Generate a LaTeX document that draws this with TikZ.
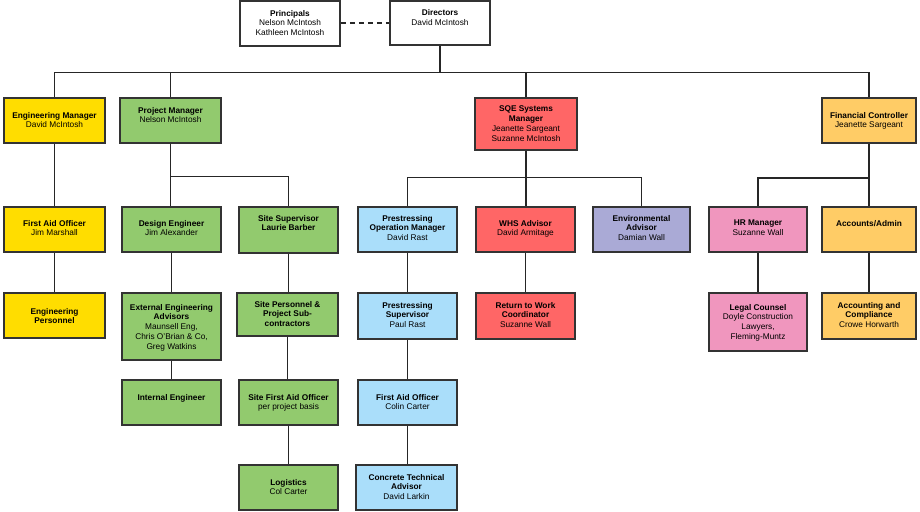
\documentclass[tikz,border=0pt]{standalone}
\usepackage{fontspec}
\setmainfont{Liberation Sans}
\definecolor{cyel}{HTML}{FFDD00}
\definecolor{cgrn}{HTML}{92CA6E}
\definecolor{cred}{HTML}{FF6666}
\definecolor{cblu}{HTML}{AADEFA}
\definecolor{clav}{HTML}{AAAAD6}
\definecolor{cpnk}{HTML}{F096BE}
\definecolor{corg}{HTML}{FFCC66}
\definecolor{cline}{HTML}{333333}
\tikzset{
  orgbox/.style={draw=cline, line width=1.5pt, inner sep=0pt, rectangle},
  orgtxt/.style={anchor=north, inner sep=0pt, align=center,
    font=\fontsize{8.3}{9.8}\selectfont, execute at begin node={\rule{0pt}{6.2pt}}},
  conn/.style={draw=black!85, line width=1.6pt},
}
\newcommand\orgbox[8]{%
  \node[orgbox, fill=#6, minimum width={#4-#2}, minimum height={#5-#3}] (#1) at ({(#2+#4)/2},{(#3+#5)/2}) {};
  \node[orgtxt] (#1t) at ({(#2+#4)/2},{#7-3.2}) {#8};}
\begin{document}
\begin{tikzpicture}[x=1pt,y=-1pt]
\useasboundingbox (0,0) rectangle (920,511);
\orgbox{pr}{240}{1}{340}{46}{white}{13}{\textbf{Principals}\\Nelson McIntosh\\Kathleen McIntosh}
\orgbox{dir}{390}{1}{490}{45}{white}{12.5}{\textbf{Directors}\\David McIntosh}
\orgbox{em}{4}{98}{105}{143}{cyel}{115}{\textbf{Engineering Manager}\\David McIntosh}
\orgbox{pm}{120}{98}{221}{143}{cgrn}{110}{\textbf{Project Manager}\\Nelson McIntosh}
\orgbox{sqe}{475}{98}{577}{150}{cred}{109}{\textbf{SQE Systems}\\\textbf{Manager}\\Jeanette Sargeant\\Suzanne McIntosh}
\orgbox{fc}{822}{98}{916}{143}{corg}{115}{\textbf{Financial Controller}\\Jeanette Sargeant}
\orgbox{fao}{4}{207}{105}{252}{cyel}{223}{\textbf{First Aid Officer}\\Jim Marshall}
\orgbox{ep}{4}{293}{105}{338}{cyel}{311}{\textbf{Engineering}\\\textbf{Personnel}}
\orgbox{de}{122}{207}{221}{252}{cgrn}{223}{\textbf{Design Engineer}\\Jim Alexander}
\orgbox{ss}{239}{207}{338}{253}{cgrn}{218}{\textbf{Site Supervisor}\\\textbf{Laurie Barber}}
\orgbox{eea}{122}{293}{221}{360}{cgrn}{307}{\textbf{External Engineering}\\\textbf{Advisors}\\Maunsell Eng,\\Chris O'Brian \& Co,\\Greg Watkins}
\orgbox{ie}{122}{380}{221}{425}{cgrn}{397}{\textbf{Internal Engineer}}
\orgbox{sp}{237}{293}{338}{336}{cgrn}{304}{\textbf{Site Personnel \&}\\\textbf{Project Sub-}\\\textbf{contractors}}
\orgbox{sfa}{239}{380}{338}{425}{cgrn}{397}{\textbf{Site First Aid Officer}\\per project basis}
\orgbox{log}{239}{465}{338}{510}{cgrn}{482}{\textbf{Logistics}\\Col Carter}
\orgbox{pom}{358}{207}{457}{252}{cblu}{218}{\textbf{Prestressing}\\\textbf{Operation Manager}\\David Rast}
\orgbox{whs}{476}{207}{575}{252}{cred}{223}{\textbf{WHS Advisor}\\David Armitage}
\orgbox{env}{593}{207}{690}{252}{clav}{218}{\textbf{Environmental}\\\textbf{Advisor}\\Damian Wall}
\orgbox{psup}{358}{293}{457}{339}{cblu}{305}{\textbf{Prestressing}\\\textbf{Supervisor}\\Paul Rast}
\orgbox{rtw}{476}{293}{575}{339}{cred}{305}{\textbf{Return to Work}\\\textbf{Coordinator}\\Suzanne Wall}
\orgbox{faot}{358}{380}{457}{425}{cblu}{397}{\textbf{First Aid Officer}\\Colin Carter}
\orgbox{cta}{356}{465}{457}{510}{cblu}{477}{\textbf{Concrete Technical}\\\textbf{Advisor}\\David Larkin}
\orgbox{hr}{709}{207}{807}{252}{cpnk}{223}{\textbf{HR Manager}\\Suzanne Wall}
\orgbox{aa}{822}{207}{916}{252}{corg}{223}{\textbf{Accounts/Admin}}
\orgbox{lc}{709}{293}{807}{351}{cpnk}{307}{\textbf{Legal Counsel}\\Doyle Construction\\Lawyers,\\Fleming-Muntz}
\orgbox{acc}{822}{293}{916}{339}{corg}{305}{\textbf{Accounting and}\\\textbf{Compliance}\\Crowe Horwarth}
% junction rows
\coordinate (bus) at (0,72.5);
\coordinate (rowpm) at (0,176.5);
\coordinate (rowsqe) at (0,177.5);
\coordinate (rowfc) at (0,178);
% top
\draw[conn, dash pattern=on 5pt off 4pt] (pr.east |- 0,23) -- (dir.west |- 0,23);
\draw[conn] (dir.south) -- (dir.south |- bus);
\draw[conn] (em.north) |- (fc.north |- bus) -- (fc.north);
\draw[conn] (pm.north) -- (pm.north |- bus);
\draw[conn] (sqe.north) -- (sqe.north |- bus);
% engineering
\draw[conn] (em.south) -- (em.south |- fao.north);
\draw[conn] (fao.south) -- (fao.south |- ep.north);
% project
\draw[conn] (pm.south) -- (pm.south |- de.north);
\draw[conn] (pm.south |- rowpm) -| (ss.north);
\draw[conn] (de.south) -- (de.south |- eea.north);
\draw[conn] (eea.south) -- (eea.south |- ie.north);
\draw[conn] (ss.south) -- (ss.south |- sp.north);
\draw[conn] (sp.south) -- (sp.south |- sfa.north);
\draw[conn] (sfa.south) -- (sfa.south |- log.north);
% sqe
\draw[conn] (sqe.south) -- (sqe.south |- whs.north);
\draw[conn] (pom.north) |- (env.north |- rowsqe) -- (env.north);
\draw[conn] (pom.south) -- (pom.south |- psup.north);
\draw[conn] (psup.south) -- (psup.south |- faot.north);
\draw[conn] (faot.south) -- (faot.south |- cta.north);
\draw[conn] (whs.south) -- (whs.south |- rtw.north);
% finance
\draw[conn] (fc.south) -- (fc.south |- aa.north);
\draw[conn] (hr.north) |- (fc.south |- rowfc);
\draw[conn] (hr.south) -- (hr.south |- lc.north);
\draw[conn] (aa.south) -- (aa.south |- acc.north);
\end{tikzpicture}
\end{document}
